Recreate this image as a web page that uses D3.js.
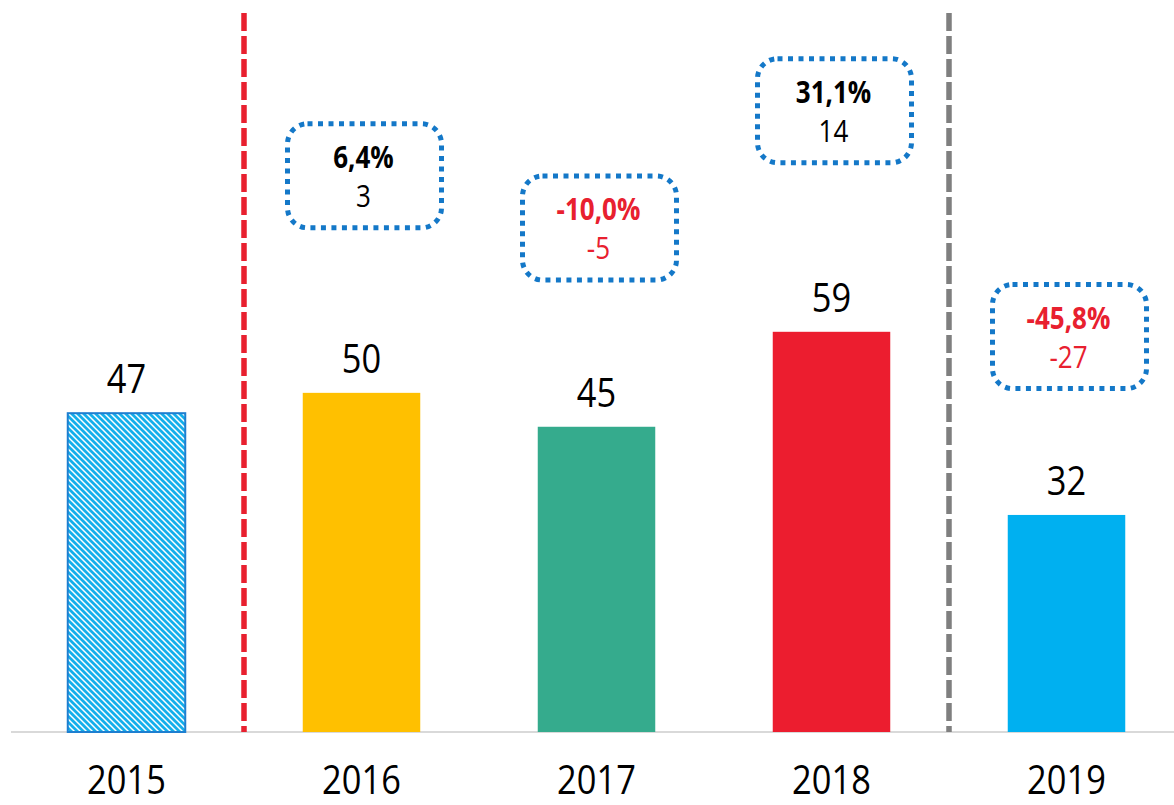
<!DOCTYPE html>
<html><head><meta charset="utf-8">
<script src="https://cdn.jsdelivr.net/npm/d3@7"></script>
<style>html,body{margin:0;padding:0;background:#fff;overflow:hidden}</style>
</head><body>
<svg id="chart" width="1174" height="805"></svg>
<script>
const years = ["2015","2016","2017","2018","2019"];
const values = [47, 50, 45, 59, 32];
const colors = ["pattern", "#FFC000", "#35AB8D", "#EC1D2F", "#00B0F0"];
const changePct = [null, "6,4%", "-10,0%", "31,1%", "-45,8%"];
const changeAbs = [null, "3", "-5", "14", "-27"];
const boxLevel = [null, 82, 74.3, 91.6, 58.3];
const dividers = [["2015","2016","#E8202F"], ["2018","2019","#7F7F7F"]];

const svg = d3.select("#chart");
const FONT = "'Open Sans', 'Noto Sans', sans-serif";
const SX = 0.84;

const x = d3.scaleBand().domain(years).range([9, 1184]).paddingInner(0.5).paddingOuter(0.25);
const y = d3.scaleLinear().domain([0, 106]).range([732, 13]);

const defs = svg.append("defs");
const pat = defs.append("pattern").attr("id","hatch").attr("patternUnits","userSpaceOnUse")
  .attr("width",6).attr("height",6);
pat.append("rect").attr("width",6).attr("height",6).attr("fill","#fff");
pat.append("path").attr("d","M-1,-1 L7,7 M-1,5 L1,7 M5,-1 L7,1").attr("stroke","#14AFEB").attr("stroke-width",2.8);

// axis baseline
svg.append("line").attr("x1",11).attr("x2",1174).attr("y1",y(0)).attr("y2",y(0))
  .attr("stroke","#D9D9D9").attr("stroke-width",2);

// bars
svg.selectAll("rect.bar").data(years).join("rect").attr("class","bar")
  .attr("x", d => x(d)).attr("width", x.bandwidth())
  .attr("y", (d,i) => y(values[i])).attr("height", (d,i) => y(0) - y(values[i]))
  .attr("fill", (d,i) => colors[i] === "pattern" ? "url(#hatch)" : colors[i])
  .attr("stroke", (d,i) => colors[i] === "pattern" ? "#1E7FD0" : "none")
  .attr("stroke-width", 2);

// dividers
dividers.forEach(([a,b,c]) => {
  const xm = (x(a) + x.bandwidth()/2 + x(b) + x.bandwidth()/2) / 2;
  svg.append("line").attr("x1",xm).attr("x2",xm).attr("y1",y(106)).attr("y2",y(0))
    .attr("stroke",c).attr("stroke-width",5.5).attr("stroke-dasharray","18,5");
});

function txt(g, xp, yp, s, size, weight, color){
  g.append("text").attr("transform",`translate(${xp},${yp}) scale(${SX},1)`)
   .attr("text-anchor","middle").attr("font-family",FONT).attr("font-size",size)
   .attr("font-weight",weight).attr("fill",color).text(s);
}

// value labels
years.forEach((d,i) => {
  const cx = x(d) + x.bandwidth()/2;
  txt(svg, cx, y(values[i]) - 20, String(values[i]), 41, 400, "#000");
  txt(svg, cx, 794, d, 41, 400, "#000");
});

// change boxes
years.forEach((d,i) => {
  if (changePct[i] === null) return;
  const cx = x(d) + x.bandwidth()/2 + 3;
  const cy = y(boxLevel[i]);
  const neg = changePct[i].startsWith("-");
  const col = neg ? "#E8202F" : "#000";
  svg.append("rect").attr("x",cx-77).attr("y",cy-52).attr("width",154).attr("height",104)
    .attr("rx",20).attr("fill","none").attr("stroke","#1478C8").attr("stroke-width",5)
    .attr("stroke-dasharray","5,5.5");
  txt(svg, cx-1, cy - 8, changePct[i], 31, 700, col);
  txt(svg, cx-1, cy + 31, changeAbs[i], 31, 400, col);
});
</script>
</body></html>
